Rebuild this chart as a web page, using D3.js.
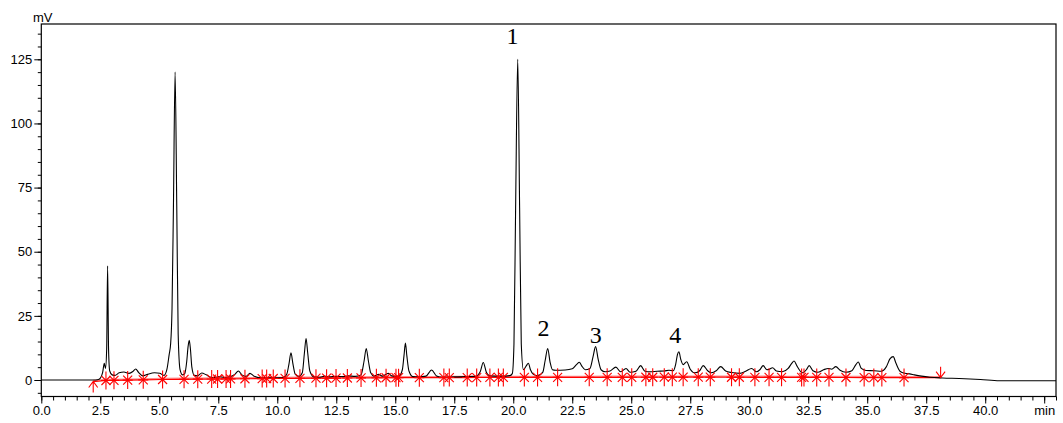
<!DOCTYPE html>
<html>
<head>
<meta charset="utf-8">
<script src="https://cdn.jsdelivr.net/npm/d3@7.9.0/dist/d3.min.js"></script>
<style>
  body { margin: 0; background: #fff; }
  svg { display: block; }
  .axis text { font-family: "Liberation Sans", Arial, sans-serif; font-size: 13px; fill: #000; }
  .axis line { stroke: #000; }
</style>
</head>
<body>
<svg id="chart" width="1063" height="423"></svg>
<script>
// detector trace, time (min) and signal (mV)
const signalTime = [
  0, 2.3, 2.45, 2.6, 2.67, 2.72, 2.77, 2.81, 2.85, 2.9, 3.0, 3.12, 3.3, 3.5, 3.72, 3.88, 4.0, 4.12, 4.3, 4.5,
  4.8, 5.02, 5.2, 5.32, 5.42, 5.48, 5.54, 5.6, 5.67, 5.74, 5.8, 5.88, 5.98, 6.08, 6.16, 6.22, 6.27, 6.32, 6.38, 6.48,
  6.62, 6.8, 6.97, 7.15, 7.35, 7.55, 7.75, 8.0, 8.2, 8.35, 8.5, 8.68, 8.84, 9.0, 9.3, 9.8, 10.25, 10.4, 10.5, 10.58,
  10.66, 10.76, 10.92, 11.06, 11.15, 11.22, 11.29, 11.38, 11.55, 11.8, 12.0, 12.2, 12.5, 12.8, 13.0, 13.3, 13.55, 13.68, 13.77, 13.86,
  13.96, 14.1, 14.3, 14.45, 14.7, 14.85, 15.15, 15.3, 15.37, 15.43, 15.49, 15.58, 15.75, 16.0, 16.3, 16.54, 16.75, 17.0, 17.5, 18.0,
  18.4, 18.6, 18.73, 18.86, 19.0, 19.5, 19.85, 19.96, 20.03, 20.1, 20.19, 20.27, 20.34, 20.43, 20.55, 20.64, 20.73, 20.85, 21.03, 21.25,
  21.35, 21.46, 21.56, 21.66, 21.8, 22.2, 22.5, 22.7, 22.8, 22.9, 23.05, 23.25, 23.38, 23.49, 23.6, 23.72, 23.9, 24.1, 24.35, 24.55,
  24.78, 24.95, 25.2, 25.4, 25.58, 25.8, 26.1, 26.4, 26.6, 26.78, 26.88, 26.96, 27.02, 27.1, 27.2, 27.35, 27.5, 27.7, 27.9, 28.05,
  28.25, 28.4, 28.6, 28.79, 29.0, 29.25, 29.6, 29.85, 30.1, 30.3, 30.45, 30.59, 30.75, 30.85, 30.99, 31.15, 31.4, 31.65, 31.8, 31.9,
  32.02, 32.25, 32.42, 32.54, 32.7, 32.9, 33.15, 33.35, 33.5, 33.67, 33.85, 34.1, 34.35, 34.52, 34.62, 34.75, 34.95, 35.3, 35.6, 35.8,
  35.97, 36.1, 36.22, 36.4, 36.6, 36.8, 37.0, 37.3, 37.65, 38.2, 38.9, 39.8, 40.6, 43.0
];
const signalMv = [
  0, 0, 0.3, 3, 6.5, 4.5, 12, 44.5, 12, 3.5, 2, 1.8, 2.8, 3.1, 2.6, 3.3, 4.3, 3, 1.6, 2.2,
  2.8, 2.6, 1.8, 4, 10, 14, 28, 68, 120, 68, 18, 4, 2, 2.5, 7, 13, 15.5, 12, 5, 1.8,
  1.6, 2.7, 2.1, 1.2, 1.0, 1.3, 1.0, 1.3, 2.2, 3.5, 2.0, 1.4, 2.6, 1.6, 0.9, 0.9, 1.0, 2.2, 6.5, 10.6,
  6.5, 2.3, 1.4, 2.8, 10.5, 16.2, 10.5, 3.5, 1.2, 1.1, 1.5, 1.2, 1.4, 1.3, 1.6, 1.4, 2, 7.5, 12.3, 7.5,
  2.8, 1.5, 2.2, 1.5, 2.6, 1.6, 1.4, 4, 9.5, 14.4, 9.5, 3.5, 1.3, 1.2, 1.5, 3.9, 1.6, 1.1, 1.2, 1.3,
  1.4, 3.2, 6.8, 3, 1.6, 1.5, 1.7, 2.5, 14, 67, 125, 67, 14, 4, 5.5, 6.5, 4, 2.2, 1.7, 3,
  7.5, 12.3, 7, 4, 3.8, 3.9, 4.4, 6.2, 6.9, 5.5, 4, 4.5, 9, 13, 8, 4, 3.2, 3.5, 5.0, 3.2,
  4.5, 3, 3.4, 5.6, 3.4, 3.2, 3.4, 3.5, 3.8, 3.6, 6, 10, 11, 8, 6, 7.1, 4.2, 2.8, 3.6, 5.6,
  3.5, 2.8, 3.6, 5.2, 3.5, 2.9, 2.6, 3.4, 4.5, 3.2, 4, 5.6, 4, 4.2, 4.8, 3.5, 3.2, 4.5, 6.5, 7.4,
  5.5, 2.8, 4, 5.6, 3.6, 3, 4, 4.5, 4.2, 5.2, 3.8, 3, 3.6, 6, 7, 4.5, 3.7, 3.6, 3.4, 5,
  8.3, 9.1, 6.5, 3.3, 2.6, 2.4, 2.0, 1.5, 1.1, 0.8, 0.6, 0.2, -0.3, -0.3
];

// integration baseline and peak start/end marks
const baselineTime = [2.2, 2.74, 5.14, 10, 15, 20, 28, 38.11];
const baselineMv = [-0.6, -0.2, 0.2, 0.6, 0.9, 1.0, 1.1, 0.9];
const markerTimes = [
  2.74, 3.08, 3.66, 4.32, 5.14, 6.05, 6.63, 7.22, 7.47, 7.83, 8.02, 8.63, 9.36, 9.55, 9.83, 10.33, 10.96, 11.64,
  12.09, 12.49, 12.97, 13.55, 14.2, 14.61, 15.03, 15.14, 16.02, 17.06, 17.29, 18.05, 18.45, 19.01, 19.37, 19.58,
  20.47, 21.03, 21.88, 23.22, 23.98, 24.62, 25.02, 25.62, 25.91, 26.4, 26.74, 27.2, 27.84, 28.35, 29.25, 29.58,
  30.24, 30.84, 31.37, 32.22, 32.32, 32.86, 33.38, 34.1, 34.87, 35.28, 35.62, 36.56
];
const startTime = 2.2;
const endTime = 38.11;

// peak numbers
const peakLabels = ["1", "2", "3", "4"];
const peakLabelTime = [19.97, 21.28, 23.5, 26.87];
const peakLabelMv = [130.9, 17.1, 14.5, 14.5];

const xMajor = d3.range(0, 43, 2.5);
const xMinor = d3.range(0, 43.01, 0.5);
const yMajor = [0, 25, 50, 75, 100, 125];
const yMinor = d3.range(-5, 136, 5);

const plotLeft = 41.3, plotRight = 1056, plotTop = 24, plotBottom = 396.5;

const svg = d3.select("#chart");

const x = d3.scaleLinear().domain([0, 43]).range([plotLeft, plotRight]);
const y = d3.scaleLinear().domain([0, 125]).range([380, 59.3]);
const base = d3.scaleLinear().domain(baselineTime).range(baselineMv);

svg.append("defs").append("clipPath").attr("id", "plot")
  .append("rect").attr("x", plotLeft).attr("y", plotTop)
  .attr("width", plotRight - plotLeft).attr("height", plotBottom - plotTop);

// axes
const gx = svg.append("g").attr("class", "axis").attr("transform", `translate(0,${plotBottom})`);
gx.call(d3.axisBottom(x).tickValues(xMinor).tickSize(4).tickFormat(""))
  .call(g => g.select(".domain").remove());
const gx2 = svg.append("g").attr("class", "axis").attr("transform", `translate(0,${plotBottom})`);
gx2.call(d3.axisBottom(x).tickValues(xMajor).tickSize(7)
    .tickFormat(d => d === 42.5 ? "min" : d3.format(".1f")(d)))
  .call(g => g.select(".domain").remove());
gx2.selectAll("text").attr("y", 18).attr("dy", 0);

const gy = svg.append("g").attr("class", "axis").attr("transform", `translate(${plotLeft},0)`);
gy.call(d3.axisLeft(y).tickValues(yMinor).tickSize(3.5).tickFormat(""))
  .call(g => g.select(".domain").remove());
const gy2 = svg.append("g").attr("class", "axis").attr("transform", `translate(${plotLeft},0)`);
gy2.call(d3.axisLeft(y).tickValues(yMajor).tickSize(7))
  .call(g => g.select(".domain").remove());
gy2.selectAll("text").attr("x", -9);

svg.append("rect")
  .attr("x", plotLeft).attr("y", plotTop)
  .attr("width", plotRight - plotLeft).attr("height", plotBottom - plotTop)
  .attr("fill", "none").attr("stroke", "#000").attr("stroke-width", 1.2);

svg.append("text").attr("x", 33).attr("y", 22)
  .attr("font-family", "Liberation Sans, Arial, sans-serif").attr("font-size", 13)
  .text("mV");

const plot = svg.append("g").attr("clip-path", "url(#plot)");

// baseline (two tones like the integrator output)
const baseLine = d3.line().x(d => x(d)).y(d => y(base(d)));
const basePts = [startTime, ...markerTimes, endTime];
plot.append("path").attr("d", baseLine(basePts))
  .attr("fill", "none").attr("stroke", "#ff8a8a").attr("stroke-width", 1.4)
  .attr("transform", "translate(0,-1)");
plot.append("path").attr("d", baseLine(basePts))
  .attr("fill", "none").attr("stroke", "#ff0000").attr("stroke-width", 1.2);

// signal trace
const trace = d3.line()
  .x((d, i) => x(signalTime[i]))
  .y(d => y(d))
  .curve(d3.curveMonotoneX);
plot.append("path").attr("d", trace(signalMv))
  .attr("fill", "none").attr("stroke", "#000").attr("stroke-width", 1.1);

// asterisk markers
const marks = plot.append("g").attr("stroke", "#ff0000").attr("stroke-width", 1.1);
markerTimes.forEach(t => {
  const cx = x(t), cy = y(base(t));
  const g = marks.append("g").attr("transform", `translate(${cx},${cy})`);
  g.append("line").attr("x1", 0).attr("x2", 0).attr("y1", -9).attr("y2", 9);
  g.append("line").attr("x1", -4.5).attr("x2", 4.5).attr("y1", -4.5).attr("y2", 4.5);
  g.append("line").attr("x1", -4.5).attr("x2", 4.5).attr("y1", 4.5).attr("y2", -4.5);
  g.append("line").attr("x1", -5).attr("x2", 5).attr("y1", 0).attr("y2", 0);
});

// start arrow (up) and end arrow (down)
const sx = x(startTime), sy = y(base(startTime));
marks.append("path").attr("fill", "none")
  .attr("d", `M${sx},${sy + 11}L${sx},${sy}M${sx - 4.5},${sy + 6}L${sx},${sy}L${sx + 4.5},${sy + 6}`);
const ex = x(endTime), ey = y(base(endTime));
marks.append("path").attr("fill", "none")
  .attr("d", `M${ex},${ey - 11}L${ex},${ey}M${ex - 4.5},${ey - 6}L${ex},${ey}L${ex + 4.5},${ey - 6}`);

// peak numbers
svg.append("g").selectAll("text").data(peakLabels).join("text")
  .attr("x", (d, i) => x(peakLabelTime[i]))
  .attr("y", (d, i) => y(peakLabelMv[i]))
  .attr("text-anchor", "middle")
  .attr("font-family", "Liberation Serif, Times New Roman, serif")
  .attr("font-size", 24)
  .text(d => d);
</script>
</body>
</html>
